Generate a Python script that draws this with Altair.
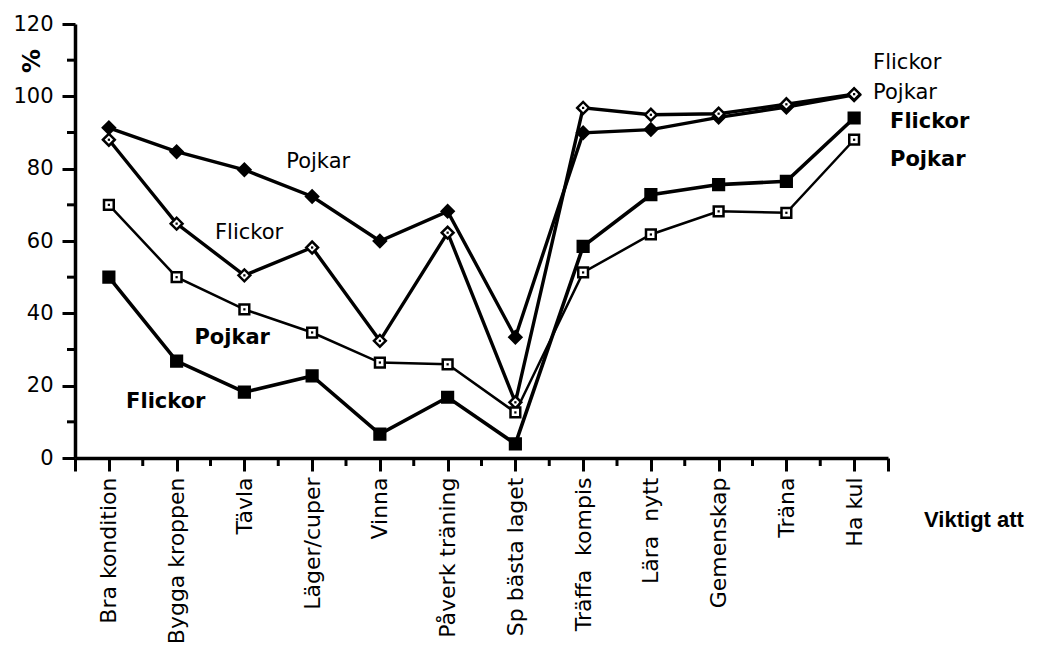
import json
import altair as alt
import pandas as pd

categories = ["Bra kondition", "Bygga kroppen", "Tävla", "Läger/cuper", "Vinna",
              "Påverk träning", "Sp bästa laget", "Träffa\u00a0 kompis", "Lära\u00a0 nytt",
              "Gemenskap", "Träna", "Ha kul"]

pojkar_diamond = [91.3, 84.7, 79.7, 72.3, 60.0, 68.2, 33.4, 89.9, 90.8, 94.2, 97.0, 100.4]
flickor_diamond = [88.0, 64.8, 50.5, 58.2, 32.4, 62.3, 15.4, 96.8, 94.9, 95.2, 97.8, 100.6]
pojkar_square = [70.0, 50.0, 41.1, 34.7, 26.4, 25.9, 12.6, 51.3, 61.8, 68.2, 67.8, 88.0]
flickor_square = [50.0, 26.8, 18.2, 22.7, 6.6, 16.8, 3.9, 58.5, 72.8, 75.6, 76.5, 94.0]

y_major = [0, 20, 40, 60, 80, 100, 120]
y_minor = [10, 30, 50, 70, 90, 110]
x_minor = [0.5, 1.5, 2.5, 3.5, 4.5, 5.5, 6.5, 7.5, 8.5, 9.5, 10.5]

ann_text = ["Pojkar", "Flickor", "Pojkar", "Flickor", "Flickor", "Pojkar", "Flickor", "Pojkar"]
ann_x = [3.09, 2.07, 1.82, 0.84, 11.28, 11.28, 11.53, 11.53]
ann_y = [81.8, 62.2, 33.2, 15.5, 109.2, 100.9, 92.9, 82.4]
ann_bold = [False, False, True, True, False, False, True, True]
ann_align = ["center", "center", "center", "center", "left", "left", "left", "left"]

series = {
    "pojkar_diamond": dict(vals=pojkar_diamond, shape="diamond", fill="black", sw_line=3.4, sw_pt=2, size=160, dot=False),
    "flickor_diamond": dict(vals=flickor_diamond, shape="diamond", fill="white", sw_line=3.4, sw_pt=2.5, size=140, dot=True),
    "pojkar_square": dict(vals=pojkar_square, shape="square", fill="white", sw_line=2.5, sw_pt=2.5, size=95, dot=True),
    "flickor_square": dict(vals=flickor_square, shape="square", fill="black", sw_line=3.6, sw_pt=2, size=125, dot=False),
}

W, H = 813, 434
xscale = alt.Scale(domain=[-0.5, 11.5], nice=False, zero=False)
yscale = alt.Scale(domain=[0, 120], nice=False, zero=False)

cat_js = json.dumps(categories, ensure_ascii=False)
x_axis = alt.Axis(
    values=[-0.5] + list(range(12)) + [11.5],
    labelExpr=f"(datum.value >= 0 && datum.value <= 11 && datum.value == floor(datum.value)) ? {cat_js}[datum.value] : ''",
    labelAngle=270, labelFont="DejaVu Sans", labelFontSize=22, labelColor="black",
    tickSize=13, tickWidth=3, tickColor="black", domainColor="black", domainWidth=3.5,
    labelPadding=6, title=None, grid=False, labelOverlap=False, labelBound=False, labelFlush=False,
)
y_axis = alt.Axis(
    values=y_major, format="d", labelFont="DejaVu Sans", labelFontSize=21, labelColor="black",
    tickSize=13, tickWidth=3, tickColor="black", domainColor="black", domainWidth=3.5,
    labelPadding=9, title=None, grid=False,
)

XE = alt.X("i:Q", scale=xscale, axis=x_axis)
YE = alt.Y("v:Q", scale=yscale, axis=y_axis)

layers = []
for name, s in series.items():
    df = pd.DataFrame({"i": list(range(len(categories))), "v": s["vals"]})
    b = alt.Chart(df)
    layers.append(b.mark_line(color="black", strokeWidth=s["sw_line"]).encode(x=XE, y=YE))
    layers.append(b.mark_point(shape=s["shape"], filled=True, fill=s["fill"], stroke="black",
                               strokeWidth=s["sw_pt"], size=s["size"], opacity=1).encode(x=XE, y=YE))
    if s["dot"]:
        layers.append(b.mark_point(shape="square", filled=True, color="black", size=5, opacity=1).encode(x=XE, y=YE))

# minor ticks
xm = pd.DataFrame({"i": x_minor})
layers.append(alt.Chart(xm).mark_rule(color="black", strokeWidth=3).encode(
    x=XE, y=alt.value(H), y2=alt.value(H + 8)))
ym = pd.DataFrame({"v": y_minor})
layers.append(alt.Chart(ym).mark_rule(color="black", strokeWidth=3).encode(
    y=YE, x=alt.value(0), x2=alt.value(-8)))

# annotations
ann = pd.DataFrame({"t": ann_text, "i": ann_x, "v": ann_y, "b": ann_bold, "a": ann_align})
for bold in (False, True):
    for align in ("center", "left"):
        sub = ann[(ann.b == bold) & (ann.a == align)]
        if len(sub) == 0:
            continue
        layers.append(alt.Chart(sub).mark_text(
            font="DejaVu Sans", fontSize=21, fontWeight="bold" if bold else "normal",
            align=align, baseline="middle", color="black").encode(x=XE, y=YE, text="t:N"))

one = pd.DataFrame({"t": ["%"]})
layers.append(alt.Chart(one).mark_text(font="DejaVu Sans", fontSize=24, fontWeight="bold", angle=270,
                                       align="center", baseline="middle", color="black").encode(
    x=alt.value(-42), y=alt.value(37), text="t:N"))
two = pd.DataFrame({"t": ["Viktigt att"]})
layers.append(alt.Chart(two).mark_text(font="Liberation Sans", fontSize=22, fontWeight="bold",
                                       align="center", baseline="middle", color="black").encode(
    x=alt.value(899), y=alt.value(496), text="t:N"))

chart = alt.layer(*layers).properties(
    width=W, height=H,
    autosize=alt.AutoSizeParams(type="none"),
    padding={"left": 67, "top": 16, "right": 141, "bottom": 197},
    background="white",
).configure_view(stroke=None)

chart.save("out.html", embed_options={"renderer": "svg", "actions": False})
